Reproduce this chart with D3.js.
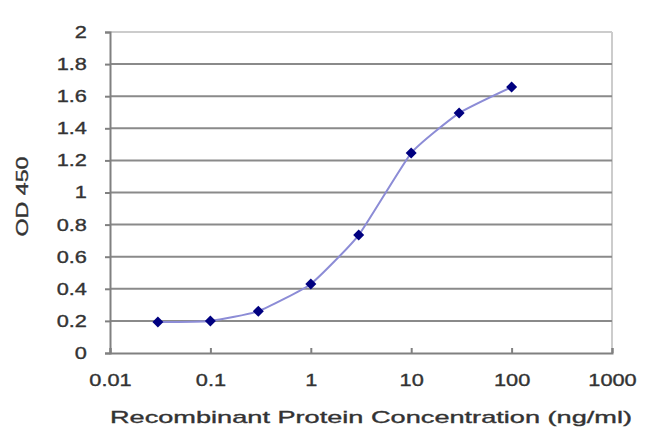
<!DOCTYPE html>
<html>
<head>
<meta charset="utf-8">
<script src="https://cdn.jsdelivr.net/npm/d3@7"></script>
<style>
  html, body { margin: 0; padding: 0; background: #fff; }
  svg { display: block; }
  text { font-family: "Liberation Sans", Arial, sans-serif; fill: #333; }
</style>
</head>
<body>
<svg id="chart" width="650" height="433"></svg>
<script>
// ---- data ----
const concentrations = [0.03, 0.1, 0.3, 1, 3, 10, 30, 100];
const od450 = [0.193, 0.2, 0.26, 0.43, 0.735, 1.246, 1.495, 1.657];
const xTicks = [0.01, 0.1, 1, 10, 100, 1000];
const xTickLabels = ["0.01", "0.1", "1", "10", "100", "1000"];
const yTicks = [0, 0.2, 0.4, 0.6, 0.8, 1, 1.2, 1.4, 1.6, 1.8, 2];
const yTickLabels = ["0", "0.2", "0.4", "0.6", "0.8", "1", "1.2", "1.4", "1.6", "1.8", "2"];
const xTitle = "Recombinant Protein Concentration (ng/ml)";
const yTitle = "OD 450";

(function () {
const svg = d3.select("#chart");
const pLeft = 110, pRight = 612, pTop = 32, pBottom = 353;
const stretch = 1.28;
const fs = 17;

const x = d3.scaleLog().domain([0.01, 1000]).range([pLeft, pRight]);
const y = d3.scaleLinear().domain([0, 2]).range([pBottom, pTop]);

// plot frame (top/right light)
svg.append("line").attr("x1", pLeft).attr("x2", pRight).attr("y1", pTop).attr("y2", pTop)
  .attr("stroke", "#cccccc").attr("stroke-width", 2);
svg.append("line").attr("x1", pRight).attr("x2", pRight).attr("y1", pTop).attr("y2", pBottom)
  .attr("stroke", "#cccccc").attr("stroke-width", 2);

// gridlines
svg.append("g").selectAll("line")
  .data(yTicks.filter(v => v > 0 && v < 2))
  .join("line")
  .attr("x1", pLeft).attr("x2", pRight)
  .attr("y1", d => y(d)).attr("y2", d => y(d))
  .attr("stroke", "#8a8a8a").attr("stroke-width", 2);

// y axis
const yAxis = svg.append("g").attr("transform", `translate(${pLeft},0)`)
  .call(d3.axisLeft(y).tickValues(yTicks).tickFormat((d, i) => yTickLabels[i]).tickSize(5).tickPadding(13));
yAxis.select(".domain").attr("stroke", "#808080").attr("stroke-width", 2);
yAxis.selectAll(".tick line").attr("stroke", "#808080").attr("stroke-width", 2);
yAxis.selectAll(".tick text")
  .attr("font-size", fs).attr("font-family", "Liberation Sans, Arial, sans-serif")
  .attr("fill", "#333").attr("stroke", "#333").attr("stroke-width", 0.35)
  .attr("transform", `scale(${stretch},1)`);

// x axis
const xAxis = svg.append("g").attr("transform", `translate(0,${pBottom})`)
  .call(d3.axisBottom(x).tickValues(xTicks).tickFormat((d, i) => xTickLabels[i]).tickSize(-5).tickPadding(21));
xAxis.select(".domain").attr("stroke", "#808080").attr("stroke-width", 2);
xAxis.selectAll(".tick line").attr("stroke", "#808080").attr("stroke-width", 2);
xAxis.selectAll(".tick text")
  .attr("font-size", fs).attr("font-family", "Liberation Sans, Arial, sans-serif")
  .attr("fill", "#333").attr("stroke", "#333").attr("stroke-width", 0.35)
  .attr("transform", `scale(${stretch},1)`);

// line
const pts = concentrations.map((c, i) => [x(c), y(od450[i])]);
svg.append("path")
  .attr("d", d3.line().curve(d3.curveCardinal.tension(0.55))(pts))
  .attr("fill", "none").attr("stroke", "#8c8cd6").attr("stroke-width", 2);

// markers
svg.append("g").selectAll("path")
  .data(pts)
  .join("path")
  .attr("transform", d => `translate(${d[0]},${d[1]})`)
  .attr("d", "M0,-5.5L5.5,0L0,5.5L-5.5,0Z")
  .attr("fill", "#000080");

// titles
svg.append("text")
  .attr("x", (pLeft + pRight) / 2 + 10).attr("y", 423)
  .attr("text-anchor", "middle").attr("font-size", fs)
  .attr("stroke", "#333").attr("stroke-width", 0.35)
  .attr("textLength", 522).attr("lengthAdjust", "spacingAndGlyphs")
  .text(xTitle);

svg.append("text")
  .attr("transform", `translate(28,${(pTop + pBottom) / 2 + 4}) rotate(-90)`)
  .attr("text-anchor", "middle").attr("font-size", fs)
  .attr("stroke", "#333").attr("stroke-width", 0.35)
  .attr("textLength", 80).attr("lengthAdjust", "spacingAndGlyphs")
  .text(yTitle);
})();
</script>
</body>
</html>
